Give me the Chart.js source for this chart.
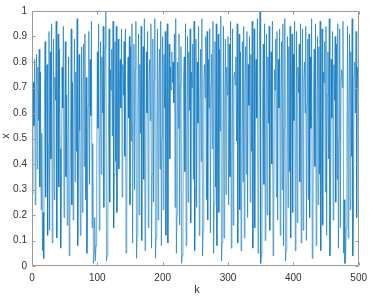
<!DOCTYPE html>
<html>
<head>
<meta charset="utf-8">
<script src="https://cdn.jsdelivr.net/npm/chart.js@4/dist/chart.umd.min.js"></script>
<style>
  html, body { margin: 0; padding: 0; background: #fff; }
  #wrap { width: 373px; height: 298px; }
</style>
</head>
<body>
<div id="wrap"><canvas id="chart" width="373" height="298"></canvas></div>
<script>
// ------------------- DATA -------------------
// x value for each step k (k = 0..500)
const xValues = [
  0.46, 0.28, 0.72, 0.55, 0.81, 0.24, 0.68, 0.83, 0.38, 0.78, 0.57, 0.85, 0.31, 0.76, 0.22, 0.52, 0.06, 0.21, 0.03, 0.63,
  0.88, 0.27, 0.71, 0.79, 0.12, 0.47, 0.92, 0.14, 0.84, 0.42, 0.95, 0.09, 0.37, 0.89, 0.26, 0.74, 0.65, 0.96, 0.11, 0.56,
  0.91, 0.31, 0.85, 0.46, 0.07, 0.27, 0.78, 0.62, 0.94, 0.19, 0.58, 0.88, 0.35, 0.67, 0.16, 0.49, 0.82, 0.04, 0.17, 0.55,
  0.93, 0.24, 0.72, 0.18, 0.61, 0.89, 0.33, 0.76, 0.45, 0.97, 0.08, 0.29, 0.83, 0.53, 0.12, 0.41, 0.86, 0.21, 0.66, 0.87,
  0.39, 0.91, 0.26, 0.74, 0.05, 0.22, 0.63, 0.92, 0.32, 0.81, 0.59, 0.96, 0.15, 0.48, 0.01, 0.05, 0.19, 0.02, 0.08, 0.31,
  0.84, 0.54, 0.95, 0.14, 0.45, 0.88, 0.36, 0.82, 0.60, 0.94, 0.23, 0.69, 0.86, 1.00, 0.02, 0.04, 0.15, 0.51, 0.93, 0.25,
  0.77, 0.69, 0.85, 0.51, 0.96, 0.15, 0.36, 0.88, 0.41, 0.94, 0.21, 0.66, 0.89, 0.38, 0.72, 0.81, 0.62, 0.93, 0.27, 0.79,
  0.67, 0.88, 0.43, 0.93, 0.05, 0.17, 0.71, 0.82, 0.58, 0.90, 0.24, 0.86, 0.49, 0.95, 0.09, 0.55, 0.87, 0.30, 0.77, 0.96,
  0.03, 0.12, 0.64, 0.91, 0.20, 0.79, 0.52, 0.94, 0.10, 0.63, 0.86, 0.34, 0.97, 0.06, 0.27, 0.84, 0.60, 0.92, 0.15, 0.70,
  0.81, 0.57, 0.95, 0.07, 0.36, 0.89, 0.25, 0.73, 0.97, 0.03, 0.11, 0.56, 0.93, 0.18, 0.68, 0.85, 0.38, 0.96, 0.08, 0.50,
  0.90, 0.22, 0.83, 0.62, 0.92, 0.12, 0.60, 0.95, 0.09, 0.66, 0.87, 0.42, 0.78, 0.69, 0.84, 0.72, 0.80, 0.64, 0.91, 0.23,
  0.97, 0.05, 0.20, 0.80, 0.54, 0.91, 0.16, 0.71, 0.86, 0.01, 0.04, 0.15, 0.73, 0.82, 0.37, 0.95, 0.08, 0.52, 0.90, 0.25,
  0.84, 0.61, 0.93, 0.17, 0.76, 0.70, 0.87, 0.34, 0.96, 0.06, 0.30, 0.89, 0.23, 0.80, 0.56, 0.94, 0.12, 0.65, 0.85, 0.41,
  0.97, 0.04, 0.14, 0.73, 0.79, 0.66, 0.90, 0.26, 0.92, 0.18, 0.81, 0.62, 0.93, 0.13, 0.71, 0.83, 0.46, 0.96, 0.05, 0.24,
  0.88, 0.31, 0.95, 0.08, 0.49, 0.91, 0.21, 0.85, 0.53, 0.98, 0.02, 0.09, 0.42, 0.94, 0.11, 0.64, 0.89, 0.28, 0.78, 0.67,
  0.90, 0.24, 0.87, 0.35, 0.96, 0.07, 0.37, 0.93, 0.16, 0.74, 0.76, 0.71, 0.82, 0.49, 0.95, 0.09, 0.57, 0.91, 0.22, 0.84,
  0.06, 0.28, 0.88, 0.33, 0.94, 0.11, 0.68, 0.86, 0.36, 0.92, 0.19, 0.79, 0.63, 0.90, 0.25, 0.83, 0.45, 0.96, 0.07, 0.38,
  0.93, 0.15, 0.72, 0.81, 0.58, 0.97, 0.05, 0.21, 0.85, 1.00, 0.01, 0.04, 0.14, 0.68, 0.87, 0.32, 0.95, 0.10, 0.60, 0.91,
  0.20, 0.82, 0.56, 0.94, 0.14, 0.70, 0.84, 0.40, 0.96, 0.04, 0.17, 0.77, 0.69, 0.89, 0.27, 0.92, 0.18, 0.81, 0.62, 0.93,
  0.12, 0.66, 0.88, 0.30, 0.95, 0.08, 0.54, 0.97, 0.02, 0.06, 0.29, 0.90, 0.23, 0.86, 0.37, 0.94, 0.11, 0.64, 0.91, 0.21,
  0.83, 0.57, 0.96, 0.06, 0.34, 0.92, 0.17, 0.78, 0.68, 0.87, 0.33, 0.95, 0.09, 0.59, 0.93, 0.14, 0.73, 0.80, 0.60, 0.94,
  0.10, 0.63, 0.89, 0.26, 0.91, 0.19, 0.82, 0.54, 0.97, 0.03, 0.13, 0.70, 0.85, 0.39, 0.95, 0.08, 0.55, 0.90, 0.24, 0.86,
  0.36, 0.96, 0.06, 0.31, 0.93, 0.16, 0.76, 0.72, 0.88, 0.29, 0.94, 0.12, 0.67, 0.84, 0.42, 0.97, 0.04, 0.20, 0.81, 0.58,
  0.92, 0.18, 0.79, 0.65, 0.90, 0.25, 0.87, 0.34, 0.95, 0.07, 0.50, 0.93, 0.15, 0.74, 0.77, 0.70, 0.96, 0.05, 0.26, 0.01,
  0.04, 0.15, 0.49, 0.94, 0.11, 0.62, 0.91, 0.22, 0.84, 0.43, 0.97, 0.04, 0.16, 0.75, 0.80, 0.60, 0.92, 0.19, 0.78, 0.69,
  0.97
];
// step index k for each value
const kValues = xValues.map((_, i) => i);

// axis ticks and titles
const xTicks = [0, 100, 200, 300, 400, 500];
const yTicks = [0, 0.1, 0.2, 0.3, 0.4, 0.5, 0.6, 0.7, 0.8, 0.9, 1];
const xTitle = "k";
const yTitle = "x";

const points = kValues.map((k, i) => ({ x: k, y: xValues[i] }));

const fontFamily = "'Liberation Sans', Arial, sans-serif";
const textColor = "#333";

// ------------------- BOX + INWARD TICKS + AXIS TITLES -------------------
const boxPlugin = {
  id: "boxPlugin",
  afterDraw(chart) {
    const { ctx, chartArea, scales } = chart;
    const l = Math.round(chartArea.left) + 0.5;
    const r = Math.round(chartArea.right) - 0.5;
    const t = Math.round(chartArea.top) + 0.5;
    const b = Math.round(chartArea.bottom) - 0.5;
    const len = 3;
    ctx.save();
    ctx.strokeStyle = "#9a9a9a";
    ctx.lineWidth = 1;
    ctx.beginPath();
    ctx.rect(l, t, r - l, b - t);
    xTicks.forEach(v => {
      const px = Math.round(scales.x.getPixelForValue(v)) + 0.5;
      ctx.moveTo(px, b); ctx.lineTo(px, b - len);
      ctx.moveTo(px, t); ctx.lineTo(px, t + len);
    });
    yTicks.forEach(v => {
      const py = Math.round(scales.y.getPixelForValue(v)) + 0.5;
      ctx.moveTo(l, py); ctx.lineTo(l + len, py);
      ctx.moveTo(r, py); ctx.lineTo(r - len, py);
    });
    ctx.stroke();

    // axis titles
    ctx.fillStyle = textColor;
    ctx.font = "11px " + fontFamily;
    ctx.textAlign = "center";
    ctx.textBaseline = "middle";
    ctx.fillText(xTitle, 197, 290);
    ctx.translate(6, 136);
    ctx.rotate(-Math.PI / 2);
    ctx.fillText(yTitle, 0, 0);
    ctx.restore();
  }
};

// ------------------- CHART -------------------
const font = { family: fontFamily, size: 10 };
new Chart(document.getElementById("chart").getContext("2d"), {
  type: "line",
  data: {
    datasets: [{
      data: points,
      borderColor: "#0072BD",
      borderWidth: 0.6,
      pointRadius: 0,
      tension: 0,
      fill: false
    }]
  },
  options: {
    responsive: false,
    animation: false,
    devicePixelRatio: 1,
    layout: { padding: { top: 5, right: 11, left: 0, bottom: 0 } },
    plugins: { legend: { display: false }, tooltip: { enabled: false } },
    scales: {
      x: {
        type: "linear",
        min: 0,
        max: 500,
        afterFit: s => { s.height = 32; },
        afterBuildTicks: s => { s.ticks = xTicks.map(v => ({ value: v })); },
        grid: { display: false, drawTicks: false },
        border: { display: false },
        ticks: { color: textColor, font, padding: 6, maxRotation: 0 }
      },
      y: {
        min: 0,
        max: 1,
        afterFit: s => { s.width = 32; },
        afterBuildTicks: s => { s.ticks = yTicks.map(v => ({ value: v })); },
        grid: { display: false, drawTicks: false },
        border: { display: false },
        ticks: {
          color: textColor,
          font,
          padding: 5,
          callback: v => String(Math.round(v * 10) / 10)
        }
      }
    }
  },
  plugins: [boxPlugin]
});
</script>
</body>
</html>
